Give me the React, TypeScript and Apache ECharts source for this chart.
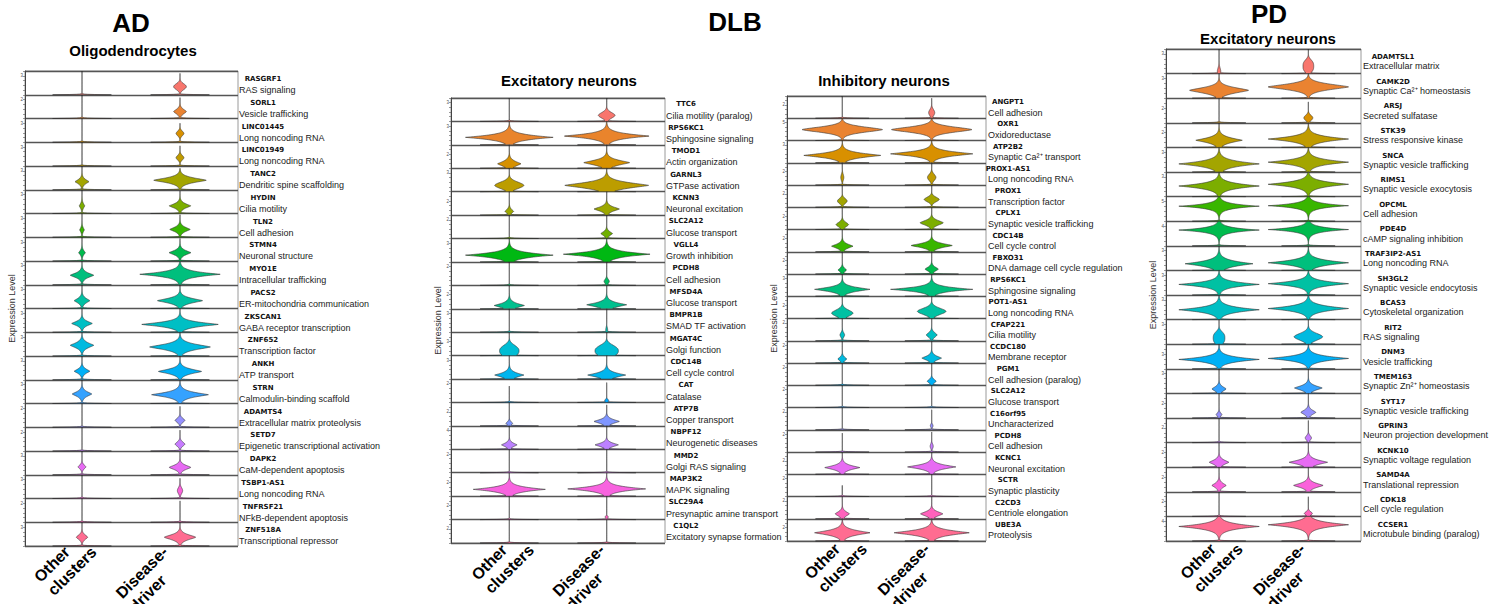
import React, { useEffect, useRef } from 'react';
import * as echarts from 'echarts';

// ---------- shared ----------
const categories = ['Other\nclusters', 'Disease-\ndriver'];

const hue20 = ['#F8766D','#EA8331','#D89000','#C09B00','#A3A500','#7CAE00','#39B600','#00BB4E','#00BF7D','#00C1A3','#00BFC4','#00BAE0','#00B0F6','#35A2FF','#9590FF','#C77CFF','#E76BF3','#FA62DB','#FF62BC','#FF6C91'];
const hue19 = ['#F8766D','#E9842C','#D69100','#BC9D00','#9CA700','#6FB000','#00B813','#00BD61','#00C08E','#00C0B4','#00BDD4','#00B5EE','#00A7FF','#7F96FF','#BC81FF','#E26EF7','#F863DF','#FF62BF','#FF6A9A'];

// violin spec: [bulb centre (row fraction), half width (category units), spread, shape power, top of needle]
type V = number[];
const L: V = [0, 0, 0.1, 1, 1];

// ---------- AD : Oligodendrocytes ----------
const adGenes = ['RASGRF1','SORL1','LINC01445','LINC01949','TANC2','HYDIN','TLN2','STMN4','MYO1E','PACS2','ZKSCAN1','ZNF652','ANKH','STRN','ADAMTS4','SETD7','DAPK2','TSBP1-AS1','TNFRSF21','ZNF518A'];
const adFunctions = ['RAS signaling','Vesicle trafficking','Long noncoding RNA','Long noncoding RNA','Dendritic spine scaffolding','Cilia motility','Cell adhesion','Neuronal structure','Intracellular trafficking','ER-mitochondria communication','GABA receptor transcription','Transcription factor','ATP transport','Calmodulin-binding scaffold','Extracellular matrix proteolysis','Epigenetic transcriptional activation','CaM-dependent apoptosis','Long noncoding RNA','NFkB-dependent apoptosis','Transcriptional repressor'];
const adTicks = ['3','2','3','3','3','3','3','3','3','3','3','3','3','3','2','2','3','3','2','3'];
const adTickSlots = [4,4,4,4,4,4,4,4,4,4,4,4,4,4,4,4,4,4,4,4];
const adOther: V[] = [L, L, L, L,
  [0.34,0.071,0.13,1.3,1],[0.32,0.028,0.14,1.3,1],[0.31,0.024,0.13,1.3,1],[0.35,0.034,0.13,1.3,1],
  [0.40,0.12,0.14,1.3,1],[0.33,0.08,0.14,1.3,1],[0.37,0.105,0.13,1.3,1],[0.45,0.12,0.15,1.3,1],
  [0.36,0.08,0.13,1.3,1],[0.40,0.10,0.14,1.3,1], L, L,
  [0.33,0.04,0.12,1.5,1], L, L, [0.37,0.058,0.14,1.5,1]];
const adDisease: V[] = [
  [0.34,0.065,0.17,2,0.9],[0.29,0.065,0.14,1.5,0.88],[0.37,0.04,0.14,1.8,0.8],[0.35,0.04,0.14,1.8,0.85],
  [0.40,0.27,0.14,1.3,0.9],[0.32,0.11,0.13,1.3,0.95],[0.33,0.105,0.13,1.3,0.95],[0.35,0.112,0.13,1.3,0.95],
  [0.44,0.41,0.13,1.1,1],[0.33,0.23,0.14,1.3,1],[0.33,0.39,0.13,1.2,1],[0.38,0.31,0.16,1.3,1],
  [0.35,0.22,0.14,1.3,1],[0.37,0.29,0.14,1.2,1],[0.29,0.05,0.13,1.6,0.88],[0.29,0.05,0.13,1.6,0.88],
  [0.31,0.11,0.13,1.4,0.95],[0.33,0.027,0.18,2,0.85],[0,0,0.1,1,0.9],[0.37,0.16,0.15,1.4,1]];

// ---------- DLB : Excitatory neurons ----------
const dlbExGenes = ['TTC6','RPS6KC1','TMOD1','GARNL3','KCNN3','SLC2A12','VGLL4','PCDH8','MFSD4A','BMPR1B','MGAT4C','CDC14B','CAT','ATP7B','NBPF12','MMD2','MAP3K2','SLC29A4','C1QL2'];
const dlbExFunctions = ['Cilia motility (paralog)','Sphingosine signaling','Actin organization','GTPase activation','Neuronal excitation','Glucose transport','Growth inhibition','Cell adhesion','Glucose transport','SMAD TF activation','Golgi function','Cell cycle control','Catalase','Copper transport','Neurogenetic diseases','Golgi RAS signaling','MAPK signaling','Presynaptic amine transport','Excitatory synapse formation'];
const dlbExTicks = ['3','3','2','3','2','2','3','2','2','3','3','3','2','2','4','2','2','2','2'];
const dlbExTickSlots = [4,4,3,4,3,4,4,4,3,4,3,4,4,3,4,4,3,3,3];
const dlbExOther: V[] = [L,
  [0.32,0.45,0.13,1.1,1],[0.19,0.12,0.15,1.3,1],[0.27,0.15,0.2,1.8,1],[0.16,0.045,0.12,1.3,1], L,
  [0.29,0.45,0.13,1.1,1], L, [0.14,0.155,0.13,1.2,1], L, [0.2,0.10,0.3,2.5,1],[0.17,0.15,0.13,1.2,1],
  [0,0,0.1,1,0.7],[0.11,0.034,0.1,1.5,1],[0.19,0.08,0.11,1.3,1], L, [0.29,0.37,0.12,1.1,1], L, L];
const dlbExDisease: V[] = [
  [0.26,0.086,0.17,1.8,1],[0.375,0.445,0.13,1.1,1],[0.24,0.235,0.15,1.3,1],[0.27,0.43,0.17,1.3,1],
  [0.26,0.13,0.13,1.3,1],[0.21,0.06,0.12,1.4,1],[0.33,0.445,0.13,1.1,1],[0.17,0.027,0.13,1.8,1],
  [0.17,0.205,0.13,1.2,1],[0.1,0.01,0.15,2,1],[0.2,0.12,0.3,2.5,1],[0.17,0.195,0.13,1.2,1],
  [0.08,0.02,0.08,2,0.85],[0.19,0.13,0.12,1.3,0.9],[0.19,0.12,0.11,1.3,1], L,
  [0.31,0.40,0.12,1.1,1],[0.11,0.016,0.06,2,1], L];

// ---------- DLB : Inhibitory neurons ----------
const dlbInGenes = ['ANGPT1','OXR1','ATP2B2','PROX1-AS1','PROX1','CPLX1','CDC14B','FBXO31','RPS6KC1','POT1-AS1','CFAP221','CCDC180','PGM1','SLC2A12','C16orf95','PCDH8','KCNC1','SCTR','C2CD3','UBE3A'];
const dlbInFunctions = ['Cell adhesion','Oxidoreductase','Synaptic Ca²⁺ transport','Long noncoding RNA','Transcription factor','Synaptic vesicle trafficking','Cell cycle control','DNA damage cell cycle regulation','Sphingosine signaling','Long noncoding RNA','Cilia motility','Membrane receptor','Cell adhesion (paralog)','Glucose transport','Uncharacterized','Cell adhesion','Neuronal excitation','Synaptic plasticity','Centriole elongation','Proteolysis'];
const dlbInTicks = ['2','5','3','2','2','2','2','2','3','2','2','2','2','2','2','2','2','2','2','2'];
const dlbInTickSlots = [3,4,4,3,3,3,3,3,4,3,4,4,4,4,4,4,3,4,4,3];
const dlbInOther: V[] = [L,
  [0.49,0.45,0.17,1.5,1],[0.33,0.43,0.14,1.2,1],[0.34,0.017,0.2,2,1],[0.28,0.054,0.16,2,1],
  [0.22,0.07,0.15,1.6,1],[0.25,0.12,0.13,1.3,1],[0.18,0.047,0.12,1.4,1],[0.31,0.31,0.13,1.2,1],
  [0.24,0.12,0.2,1.8,1],[0.26,0.026,0.15,1.8,1],[0.18,0.05,0.12,1.4,1], L, L, L, [0,0,0.1,1,0.85],
  [0.30,0.196,0.13,1.2,1],[0,0,0.1,1,0.5],[0.22,0.08,0.14,1.4,1],[0.37,0.31,0.15,1.2,1]];
const dlbInDisease: V[] = [
  [0.25,0.034,0.2,2,0.9],[0.49,0.45,0.17,1.5,1],[0.40,0.46,0.14,1.2,1],[0.34,0.047,0.2,2,1],
  [0.35,0.084,0.15,1.8,1],[0.30,0.13,0.15,1.5,1],[0.28,0.23,0.13,1.3,1],[0.22,0.075,0.13,1.4,1],
  [0.31,0.46,0.12,1.1,1],[0.32,0.16,0.2,1.8,1],[0.26,0.06,0.15,1.6,1],[0.22,0.11,0.13,1.3,1],
  [0.18,0.05,0.12,1.5,1], L, [0.18,0.015,0.1,2,0.9],[0.26,0.017,0.15,2,0.9],
  [0.33,0.27,0.13,1.2,1], L, [0.22,0.125,0.14,1.4,1],[0.37,0.42,0.15,1.2,1]];

// ---------- PD : Excitatory neurons ----------
const pdGenes = ['ADAMTSL1','CAMK2D','ARSJ','STK39','SNCA','RIMS1','OPCML','PDE4D','TRAF3IP2-AS1','SH3GL2','BCAS3','RIT2','DNM3','TMEM163','SYT17','GPRIN3','KCNK10','SAMD4A','CDK18','CCSER1'];
const pdFunctions = ['Extracellular matrix','Synaptic Ca²⁺ homeostasis','Secreted sulfatase','Stress responsive kinase','Synaptic vesicle trafficking','Synaptic vesicle exocytosis','Cell adhesion','cAMP signaling inhibition','Long noncoding RNA','Synaptic vesicle endocytosis','Cytoskeletal organization','RAS signaling','Vesicle trafficking','Synaptic Zn²⁺ homeostasis','Synaptic vesicle trafficking','Neuron projection development','Synaptic voltage regulation','Translational repression','Cell cycle regulation','Microtubule binding (paralog)'];
const pdTicks = ['3','3','2','2','3','3','5','4','3','3','3','3','3','3','2','2','2','2','2','4'];
const pdTickSlots = [4,4,3,3,4,4,4,4,4,4,4,4,3,4,3,3,3,3,3,4];
const pdOther: V[] = [
  [0.09,0.019,0.2,2,1],[0.32,0.33,0.16,1.4,1], L, [0.29,0.26,0.14,1.2,1],
  [0.33,0.45,0.14,1.1,1],[0.43,0.45,0.13,1.1,1],[0.61,0.45,0.1,1,1],[0.64,0.45,0.1,1,1],
  [0.27,0.38,0.14,1.1,1],[0.43,0.45,0.12,1.1,1],[0.40,0.45,0.13,1.1,1],[0.25,0.065,0.3,3,1],
  [0.38,0.45,0.12,1.1,1],[0.18,0.08,0.13,1.4,1],[0.14,0.032,0.1,1.5,1], L,
  [0.2,0.11,0.13,1.3,1],[0.26,0.08,0.13,1.3,1], L, [0.59,0.45,0.13,1.1,1]];
const pdDisease: V[] = [
  [0.3,0.06,0.3,3,1],[0.46,0.45,0.16,1.4,1],[0.2,0.05,0.15,2,0.85],[0.34,0.45,0.13,1.1,1],
  [0.4,0.45,0.13,1.1,1],[0.5,0.45,0.13,1.1,1],[0.63,0.45,0.1,1,1],[0.66,0.45,0.1,1,1],
  [0.31,0.45,0.13,1.1,1],[0.46,0.45,0.12,1.1,1],[0.45,0.45,0.13,1.1,1],[0.3,0.16,0.2,1.8,1],
  [0.42,0.45,0.12,1.1,1],[0.22,0.155,0.13,1.3,1],[0.23,0.084,0.13,1.4,1],[0.19,0.035,0.13,1.8,0.9],
  [0.2,0.215,0.13,1.2,1],[0.26,0.165,0.13,1.3,1],[0.12,0.045,0.1,1.8,0.8],[0.66,0.45,0.13,1.1,1]];

// zero-expression sliver at the foot of every violin (category units)
const zeroSliverWidth = 0.3;

// ---------- layout (styles only) ----------
const panels = [
  { genes: adGenes, funcs: adFunctions, ticks: adTicks, slots: adTickSlots, other: adOther, disease: adDisease, colors: hue20,
    box: { left: 25, top: 71, width: 213, height: 475 }, inner: { left: 33, width: 196 }, geneDx: 25, descDx: 1, geneFrac: 0.66, descFrac: 0.2, nameGap: 9,
    labelEnd: [-11, 7] },
  { genes: dlbExGenes, funcs: dlbExFunctions, ticks: dlbExTicks, slots: dlbExTickSlots, other: dlbExOther, disease: dlbExDisease, colors: hue19,
    box: { left: 451, top: 98, width: 214, height: 445 }, inner: { left: 460.6, width: 194.8 }, geneDx: 21, descDx: 1, geneFrac: 0.73, descFrac: 0.25, nameGap: 7,
    labelEnd: [-1, 8] },
  { genes: dlbInGenes, funcs: dlbInFunctions, ticks: dlbInTicks, slots: dlbInTickSlots, other: dlbInOther, disease: dlbInDisease, colors: hue20,
    box: { left: 787, top: 96, width: 199, height: 445 }, inner: { left: 797.6, width: 178.8 }, geneDx: 22, descDx: 2, geneFrac: 0.72, descFrac: 0.25, nameGap: 7,
    labelEnd: [-1, 9] },
  { genes: pdGenes, funcs: pdFunctions, ticks: pdTicks, slots: pdTickSlots, other: pdOther, disease: pdDisease, colors: hue20,
    box: { left: 1166, top: 49, width: 195, height: 492 }, inner: { left: 1174.4, width: 178.6 }, geneDx: 32, descDx: 2, geneFrac: 0.67, descFrac: 0.29, nameGap: 9,
    labelEnd: [-2, 9] },
];

const LABEL_FONT = 'bold 16px "Liberation Sans"';
const LABEL_LINE = 19;

const titles = [
  { text: 'AD', x: 131, y: 23, size: 26 },
  { text: 'Oligodendrocytes', x: 133, y: 50, size: 15 },
  { text: 'DLB', x: 735, y: 22, size: 26 },
  { text: 'Excitatory neurons', x: 569, y: 80, size: 15 },
  { text: 'Inhibitory neurons', x: 884, y: 80, size: 15 },
  { text: 'PD', x: 1269, y: 14, size: 26 },
  { text: 'Excitatory neurons', x: 1268, y: 38, size: 15 },
];

let measureCtx: CanvasRenderingContext2D | null = null;
function textWidth(s: string, font: string) {
  if (!measureCtx) measureCtx = document.createElement('canvas').getContext('2d');
  if (!measureCtx) return s.length * 9;
  measureCtx.font = font;
  return measureCtx.measureText(s).width;
}

function buildOption() {
  const grid: any[] = [], xAxis: any[] = [], yAxis: any[] = [], series: any[] = [];
  const R = Math.SQRT1_2;
  panels.forEach((p) => {
    const N = p.genes.length;
    const { box, inner } = p;
    const g0 = grid.length;
    const x0 = xAxis.length;
    const y0 = yAxis.length;

    grid.push({ left: box.left, top: box.top, width: box.width, height: box.height, show: true, borderColor: '#9a9a9a', borderWidth: 1, backgroundColor: '#fff' });
    grid.push({ left: inner.left, top: box.top, width: inner.width, height: box.height });
    xAxis.push({ gridIndex: g0, type: 'value', min: 0, max: 1, show: false });
    xAxis.push({ gridIndex: g0 + 1, type: 'category', data: categories, show: false });

    yAxis.push({
      gridIndex: g0, type: 'value', min: 0, max: N, interval: 0.2,
      axisLine: { show: true, lineStyle: { color: '#444', width: 1 } },
      axisTick: { show: true, length: 2, lineStyle: { color: '#555', width: 0.6 } },
      splitLine: { show: false },
      axisLabel: {
        margin: 2, fontSize: 4.5, color: '#555', fontFamily: 'Liberation Sans',
        formatter: (v: number) => {
          const k = Math.round(v * 5);
          const rowFromBottom = Math.floor(k / 5);
          const slot = k % 5;
          const r = N - 1 - rowFromBottom;
          if (r < 0 || r >= N) return '';
          return slot === p.slots[r] ? p.ticks[r] : '';
        },
      },
      name: 'Expression Level', nameLocation: 'middle', nameGap: p.nameGap,
      nameTextStyle: { fontSize: 9, color: '#333', fontFamily: 'Liberation Sans' },
    });
    yAxis.push({
      gridIndex: g0, type: 'value', min: 0, max: N, interval: 1, position: 'left',
      axisLine: { show: false }, axisTick: { show: false }, axisLabel: { show: false },
      splitLine: { show: true, lineStyle: { color: '#555', width: 1.3 } },
    });
    yAxis.push({ gridIndex: g0 + 1, type: 'value', min: 0, max: N, show: false });

    // violins
    const vdata: any[] = [];
    for (let r = 0; r < N; r++) {
      vdata.push([0, r, ...p.other[r]]);
      vdata.push([1, r, ...p.disease[r]]);
    }
    series.push({
      type: 'custom', xAxisIndex: x0 + 1, yAxisIndex: y0 + 2, clip: false, silent: true,
      data: vdata,
      renderItem: (params: any, api: any) => {
        const cat = api.value(0), r = api.value(1);
        const c = api.value(2), W = api.value(3), s = api.value(4), pw = api.value(5), top = api.value(6);
        const yb = N - 1 - r;
        const band = api.size([1, 0])[0];
        const cx = api.coord([cat, yb])[0];
        const right: number[][] = [], left: number[][] = [];
        const steps = 100;
        for (let k = 0; k <= steps; k++) {
          const t = (top * k) / steps;
          const bulb = W > 0 ? W * Math.exp(-Math.pow(Math.abs(t - c) / s, pw)) : 0;
          const foot = zeroSliverWidth * Math.exp(-t / 0.012);
          const w = Math.max(bulb, foot);
          const y = api.coord([cat, yb + t])[1];
          right.push([cx + w * band, y]);
          left.unshift([cx - w * band, y]);
        }
        return {
          type: 'polygon',
          shape: { points: right.concat(left) },
          style: { fill: p.colors[r], stroke: '#333', lineWidth: 0.6 },
        };
      },
    });

    // rotated category labels (lines left-aligned, first line ending near the tick)
    series.push({
      type: 'custom', xAxisIndex: x0 + 1, yAxisIndex: y0 + 2, clip: false, silent: true,
      data: categories.map((_, j) => [j, 0]),
      renderItem: (params: any, api: any) => {
        const j = api.value(0);
        const [tx, ty] = api.coord([j, 0]);
        const lines = categories[j].split('\n');
        const w1 = textWidth(lines[0], LABEL_FONT);
        // end of line 1 (baseline) -> centre line of line 1
        const ex = tx + p.labelEnd[0] - 5.5 * R;
        const ey = ty + p.labelEnd[1] - 5.5 * R;
        const sx = ex - w1 * R;
        const sy = ey + w1 * R;
        return {
          type: 'group',
          children: lines.map((line, k) => ({
            type: 'text',
            x: sx + k * LABEL_LINE * R,
            y: sy + k * LABEL_LINE * R,
            rotation: Math.PI / 4,
            style: { text: line, font: LABEL_FONT, fill: '#000', align: 'left', verticalAlign: 'middle' },
          })),
        };
      },
    });

    // gene names and functions
    const ldata: any[] = [];
    for (let r = 0; r < N; r++) ldata.push([1, r]);
    series.push({
      type: 'custom', xAxisIndex: x0, yAxisIndex: y0, clip: false, silent: true,
      data: ldata,
      renderItem: (params: any, api: any) => {
        const r = api.value(1);
        const yb = N - 1 - r;
        const x = api.coord([1, yb])[0];
        const yg = api.coord([1, yb + p.geneFrac])[1];
        const yd = api.coord([1, yb + p.descFrac])[1];
        return {
          type: 'group',
          children: [
            { type: 'text', x: x + p.geneDx, y: yg, style: { text: p.genes[r], font: 'bold 7px "DejaVu Sans"', fill: '#111', align: 'center', verticalAlign: 'middle' } },
            { type: 'text', x: x + p.descDx, y: yd, style: { text: p.funcs[r], font: '9px "Liberation Sans"', fill: '#222', align: 'left', verticalAlign: 'middle' } },
          ],
        };
      },
    });
  });

  const graphic = titles.map((t) => ({
    type: 'text', x: t.x, y: t.y,
    style: { text: t.text, font: `bold ${t.size}px "Liberation Sans"`, fill: '#000', align: 'center', verticalAlign: 'middle' },
  }));

  return { animation: false, backgroundColor: '#fff', grid, xAxis, yAxis, series, graphic };
}

export default function App() {
  const ref = useRef<HTMLDivElement>(null);
  useEffect(() => {
    if (!ref.current) return;
    const chart = echarts.init(ref.current, undefined, { renderer: 'svg' });
    chart.setOption(buildOption() as any);
    return () => chart.dispose();
  }, []);
  return <div ref={ref} style={{ position: 'absolute', left: 0, top: 0, width: 1505, height: 604 }} />;
}
